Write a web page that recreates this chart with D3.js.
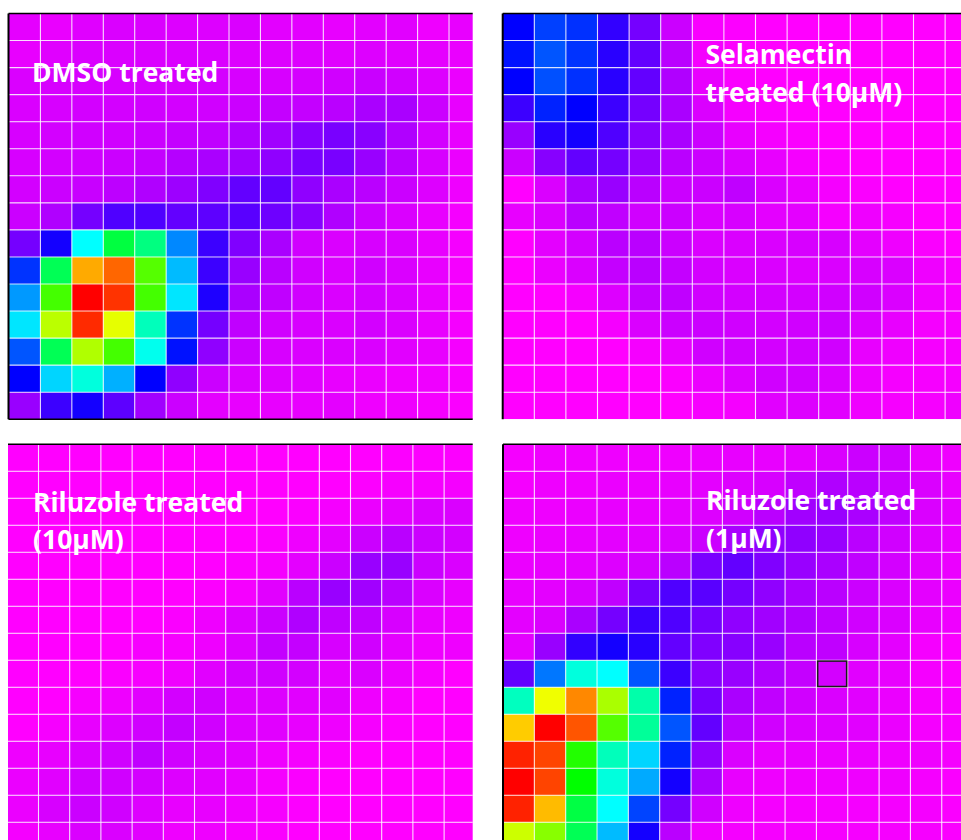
<!DOCTYPE html>
<html>
<head>
<meta charset="utf-8">
<script src="https://cdn.jsdelivr.net/npm/d3@7"></script>
<style>
  html, body { margin: 0; padding: 0; background: #ffffff; }
  svg { display: block; }
</style>
</head>
<body>
<svg id="chart" width="961" height="840"></svg>
<script>
// Signal intensity per grid cell (0 = lowest, 100 = highest), rows top to bottom.
const dmsoValues = [
  [3, 2.5, 3.5, 4, 4, 3.7, 3.7, 4, 3.2, 3.2, 2.7, 3.2, 3.4, 2, 2.7],
  [2.7, 3.5, 4, 4, 4, 4, 4, 3.7, 3.7, 3.7, 3.5, 3.7, 3.5, 3, 2.5],
  [4, 4.3, 4.3, 4.3, 4.3, 4.3, 4.5, 4.3, 4.3, 4.5, 4.9, 5.5, 4.9, 3.7, 2.4],
  [4, 4.3, 4.6, 4.6, 4.9, 4.6, 4.9, 5.3, 5.9, 5.9, 6.7, 8, 8, 5.3, 2.7],
  [4.3, 4.6, 4.9, 4.9, 5.3, 5.9, 6.2, 7.5, 8.7, 10.7, 11.7, 10.5, 7.5, 4.6, 2.7],
  [4.3, 4.6, 4.9, 5.3, 5.9, 7.1, 8, 8.7, 10, 11.7, 11.7, 9.3, 6.7, 4.3, 2.4],
  [4.6, 5.3, 5.6, 6.5, 7.5, 9, 11.2, 13.3, 13.3, 10, 8, 6.7, 5.3, 3.7, 2],
  [5.3, 7.5, 12, 14.7, 14.7, 13.3, 13.7, 14, 12.5, 10.7, 7.5, 5.3, 4, 2.7, 1.3],
  [12, 18.7, 40, 55, 50, 30.7, 16, 11.2, 8, 4.9, 4, 4.3, 4, 2.7, 1.3],
  [24, 53.3, 86.7, 92, 66.7, 34.7, 16, 9.3, 6.7, 4.9, 4, 4.9, 4, 2.7, 1.3],
  [32, 65.3, 100, 96, 65.3, 38, 18, 8, 6.2, 4.9, 4, 4.6, 4, 2.7, 1.3],
  [38, 74.7, 96.7, 78, 45.3, 24, 12, 6.2, 4.9, 4.3, 4, 4.6, 4, 2.7, 1.3],
  [26.7, 53.3, 73.8, 65.3, 41.3, 21.3, 10, 5.3, 4.3, 4, 4, 4, 3.4, 2.7, 1.3],
  [20, 36.7, 42.7, 33.8, 20, 10, 5.3, 4, 3.7, 3.4, 2.7, 2.4, 2, 2, 1.2],
  [9.3, 16, 18.7, 13.7, 8.7, 5.3, 3.1, 2.7, 2.7, 2.7, 3.1, 2, 2, 1.3, 0.8]
];

const selamectinValues = [
  [20, 25, 23.8, 16.7, 12, 5.3, 1, 0.5, 0, 0, 0, 0, 0, 0, 0],
  [21.3, 26.7, 24, 17.3, 13.3, 6.7, 1.3, 0.3, 0, 0, 0, 0, 0, 0, 0],
  [20, 26.3, 23.8, 17.3, 13.3, 7.5, 2.7, 0.8, 0, 0, 0, 0, 0, 0, 0],
  [16, 22.7, 20, 16, 12, 8, 4, 1.3, 0.8, 0, 0, 0, 0, 0, 0],
  [9.3, 17.3, 18.7, 14.7, 10.7, 8, 5.3, 2.7, 1.3, 0.8, 0, 0, 0, 0, 0],
  [5.3, 10.7, 13.3, 12, 9.3, 6.7, 5.3, 4, 2.7, 1.3, 0.8, 0, 0, 0, 0],
  [0, 4, 8, 9.3, 6.7, 5.3, 5.3, 6.2, 4, 2.7, 1.3, 0.8, 0, 0, 0],
  [2.7, 4, 6.7, 6.2, 4.9, 5.3, 4, 4.3, 3.1, 3.1, 1.3, 2, 1.2, 0, 0],
  [0, 3.1, 4.6, 6.7, 6.7, 5.3, 4, 4, 4, 4.3, 4.3, 3.1, 2, 0.8, 0],
  [0, 2.4, 4, 5.9, 6.7, 5.9, 4.6, 4, 4, 3.7, 4, 4.3, 4, 2, 1.2],
  [0, 0, 1.3, 3.7, 5.9, 6.2, 4.9, 4.6, 4.6, 4.6, 4.9, 4.9, 4, 2, 1.2],
  [0, 0, 0, 1.3, 4, 5.3, 5.3, 4.9, 4.6, 4.9, 5.3, 4, 2.7, 1.3, 1.2],
  [0, 0, 0, 0, 1.3, 2.7, 4.9, 4.9, 4.6, 4.9, 4.9, 2.7, 2, 1.2, 1.3],
  [0, 0, 0, 0, 0, 0.8, 2.4, 3.7, 4.9, 4.9, 4, 2.4, 1.3, 1.2, 1.3],
  [0, 0, 0, 0, 0, 0, 1.2, 1.3, 3.4, 3.7, 3.4, 2, 1.2, 1.2, 2]
];

const riluzole10Values = [
  [0, 0, 0, 0, 0, 0, 0, 0, 0, 0, 0, 0, 0.5, 0.5, 0.5],
  [0, 0, 0, 0, 0, 0, 0, 0, 0, 0, 0, 0.5, 1.2, 1.3, 1.3],
  [0, 0, 0, 0, 0, 0, 0, 0, 0, 0.8, 1.3, 2.4, 3.1, 4, 4],
  [0, 0, 0, 0, 0, 0, 0, 0, 0.8, 2, 3.1, 5.3, 6.7, 5.3, 4.6],
  [0, 0, 0, 0, 0, 0, 0, 0.8, 1.3, 3.1, 5.3, 9.3, 9.3, 5.3, 4],
  [0, 0, 0, 0, 0, 0, 0.5, 1.3, 3.4, 6.7, 9.3, 8.7, 6.7, 4, 2.7],
  [0, 0, 0, 0, 0, 0.8, 2, 3.7, 5.3, 7.5, 6.2, 6.2, 4.3, 2.7, 2],
  [0, 0, 0, 0, 1.2, 1.2, 2, 3.7, 5.9, 5.9, 4.3, 4.9, 3.1, 2, 2],
  [0, 0, 0, 0.8, 1.2, 2, 3.4, 4.6, 4.9, 4.6, 3.1, 4, 2.4, 1.2, 0],
  [0, 0, 1.2, 2, 3.4, 4.6, 4.9, 3.7, 3.7, 3.4, 3.4, 2, 1.2, 0, 0],
  [0, 1.2, 2.7, 3.7, 4.9, 5.9, 4.9, 3.7, 3.4, 2.7, 2, 1.2, 0.5, 0, 0],
  [2, 2.7, 4, 4.9, 6.2, 4.9, 4, 3.4, 2, 1.3, 0.8, 0, 0, 0, 0],
  [2.4, 3.4, 4.9, 4.9, 4.6, 3.7, 3.4, 2.7, 1.3, 0.8, 0, 0, 0, 0, 0],
  [2.4, 4.3, 5.3, 4.9, 3.7, 2.7, 2.7, 2, 1.2, 0.5, 0, 0, 0, 0, 0],
  [1.3, 2.7, 4, 4, 3.4, 2, 2, 1.2, 0.8, 0, 0, 0, 0, 0, 0]
];

const riluzole1Values = [
  [1.3, 2, 2, 2, 2, 2, 2.4, 2.7, 2.7, 3.1, 4, 5.3, 4.9, 2.7, 2],
  [1.3, 2, 2, 2.4, 2.4, 2.7, 3.1, 3.7, 4.3, 6.2, 7.5, 6.7, 5.3, 4, 2.7],
  [2, 2, 2.4, 2.7, 2.7, 3.1, 3.7, 4.9, 6.7, 8.7, 9.3, 8, 6.2, 4, 3.1],
  [2, 2.4, 2.7, 3.1, 3.4, 4, 5.3, 8, 10, 10, 9.3, 6.7, 4.9, 3.7, 2.7],
  [2.4, 2.7, 3.1, 3.7, 4.6, 6.7, 11.7, 13.3, 11.2, 9.3, 8, 6.2, 4.6, 3.4, 2.4],
  [2.7, 3.1, 4.3, 6.2, 12, 14.7, 14, 12, 10, 8, 6.7, 5.3, 4, 3.1, 2.4],
  [3.1, 4, 8, 12, 16, 14.7, 12, 10, 8.7, 7.5, 6.2, 4.9, 4, 2.7, 2],
  [3.1, 9.3, 16.7, 18.7, 17.3, 13.3, 11.2, 10.7, 9.3, 6.7, 6.2, 4.3, 3.1, 1.3, 0.8],
  [13.3, 29.3, 42.7, 40, 26.7, 16, 10.7, 9.3, 7.5, 5.9, 4.6, 3.4, 2.7, 1.3, 0.8],
  [45, 78.8, 89.3, 73.3, 46.7, 22.7, 12, 8, 6.2, 4.9, 4, 3.4, 2.4, 1.3, 1.2],
  [84, 100, 93.3, 66.7, 48, 26.7, 13.3, 6.7, 4.9, 4, 3.7, 3.4, 2.4, 1.3, 1.2],
  [97.3, 94.7, 62.7, 45.3, 36.7, 22.7, 10, 4, 2.7, 2.7, 2.4, 2.4, 2, 2, 1.3],
  [100, 94.7, 60, 42.7, 33.3, 18.7, 8, 2.7, 2, 2, 2, 2, 2, 1.3, 0.8],
  [97.3, 85.3, 54.7, 40, 25.3, 12, 4.9, 2, 1.3, 1.3, 1.3, 1.3, 1.3, 1.3, 0.8],
  [76, 70.7, 53.3, 34.7, 18.7, 6.7, 2, 1.3, 1.2, 1.2, 1.2, 1.2, 1.2, 1.2, 0.8]
];

const panelTitles = [
  ["DMSO treated"],
  ["Selamectin", "treated (10\u00B5M)"],
  ["Riluzole treated", "(10\u00B5M)"],
  ["Riluzole treated", "(1\u00B5M)"]
];

// Cell highlighted with an outline in the 1 µM panel: [row, column]
const selectedCell = [8, 10];

// Rainbow colour scale: low values magenta through violet and blue, high values red.
const lowHue = d3.scalePow().exponent(1.2).domain([0, 20]).range([300, 240]).clamp(true);
const highHue = d3.scaleLinear().domain([20, 100]).range([240, 0]).clamp(true);
const colorOf = v => d3.hsl(v < 20 ? lowHue(v) : highHue(v), 1, 0.5).toString();

// Panel placement on the page.
const layout = [
  { values: dmsoValues, title: panelTitles[0], x0: 9, cw: 31.43, y0: 13.5, ch: 27.05,
    clip: [8.5, 13.5, 472.7, 419.3], borders: ["top", "left", "bottom"], tx: 32, ty: 81.7 },
  { values: selamectinValues, title: panelTitles[1], x0: 502.7, cw: 31.6, y0: 13.5, ch: 27.05,
    clip: [502.7, 13.5, 961, 419.3], borders: ["top", "left"], tx: 705.5, ty: 64 },
  { values: riluzole10Values, title: panelTitles[2], x0: 7.3, cw: 31.2, y0: 444.3, ch: 27,
    clip: [8, 444.3, 472.7, 840], borders: ["top"], tx: 33, ty: 511.7 },
  { values: riluzole1Values, title: panelTitles[3], x0: 503, cw: 31.34, y0: 444.3, ch: 27,
    clip: [503, 444.3, 961, 840], borders: ["top", "left"], tx: 706, ty: 510, selected: selectedCell }
];

const svg = d3.select("#chart");
const defs = svg.append("defs");

layout.forEach((p, i) => {
  const nRows = p.values.length;
  const nCols = p.values[0].length;
  const x = d3.scaleBand().domain(d3.range(nCols)).range([p.x0, p.x0 + nCols * p.cw]);
  const y = d3.scaleBand().domain(d3.range(nRows)).range([p.y0, p.y0 + nRows * p.ch]);
  const [cx0, cy0, cx1, cy1] = p.clip;

  defs.append("clipPath").attr("id", "clip" + i)
    .append("rect").attr("x", cx0).attr("y", cy0).attr("width", cx1 - cx0).attr("height", cy1 - cy0);

  const g = svg.append("g").attr("clip-path", `url(#clip${i})`);

  const cells = p.values.flatMap((row, r) => row.map((v, c) => ({ r, c, v })));

  g.selectAll("rect.cell").data(cells).join("rect")
    .attr("class", "cell")
    .attr("x", d => x(d.c))
    .attr("y", d => y(d.r))
    .attr("width", x.bandwidth())
    .attr("height", y.bandwidth())
    .attr("fill", d => colorOf(d.v));

  // White grid lines between cells
  g.selectAll("line.vgrid").data(d3.range(1, nCols)).join("line")
    .attr("class", "vgrid")
    .attr("x1", c => x(c)).attr("x2", c => x(c))
    .attr("y1", p.y0).attr("y2", p.y0 + nRows * p.ch)
    .attr("stroke", "#ffffff").attr("stroke-opacity", 0.8).attr("stroke-width", 1.1);
  g.selectAll("line.hgrid").data(d3.range(1, nRows)).join("line")
    .attr("class", "hgrid")
    .attr("y1", r => y(r)).attr("y2", r => y(r))
    .attr("x1", p.x0).attr("x2", p.x0 + nCols * p.cw)
    .attr("stroke", "#ffffff").attr("stroke-opacity", 0.8).attr("stroke-width", 1.1);

  if (p.selected) {
    const [sr, sc] = p.selected;
    g.append("rect")
      .attr("x", x(sc) + 1.3).attr("y", y(sr) + 0.8)
      .attr("width", x.bandwidth() - 2.4).attr("height", y.bandwidth() - 1.6)
      .attr("fill", "none").attr("stroke", "#1a1a1a").attr("stroke-width", 1.5);
  }

  // Frame edges
  if (p.borders.includes("top")) {
    svg.append("line").attr("x1", cx0).attr("x2", cx1).attr("y1", cy0).attr("y2", cy0)
      .attr("stroke", "#000000").attr("stroke-width", 1.5);
  }
  if (p.borders.includes("left")) {
    svg.append("line").attr("x1", cx0).attr("x2", cx0).attr("y1", cy0).attr("y2", cy1)
      .attr("stroke", "#000000").attr("stroke-width", 2);
  }
  if (p.borders.includes("bottom")) {
    svg.append("line").attr("x1", cx0).attr("x2", cx1).attr("y1", cy1).attr("y2", cy1)
      .attr("stroke", "#000000").attr("stroke-width", 1.5);
  }

  // Panel title
  const t = svg.append("text")
    .attr("x", p.tx).attr("y", p.ty)
    .attr("fill", "#ffffff")
    .attr("font-family", "'Open Sans', 'Noto Sans', sans-serif")
    .attr("font-weight", 700)
    .attr("font-size", 26.5);
  p.title.forEach((line, k) => {
    t.append("tspan").attr("x", p.tx).attr("dy", k === 0 ? 0 : 37.5).text(line);
  });
});
</script>
</body>
</html>
